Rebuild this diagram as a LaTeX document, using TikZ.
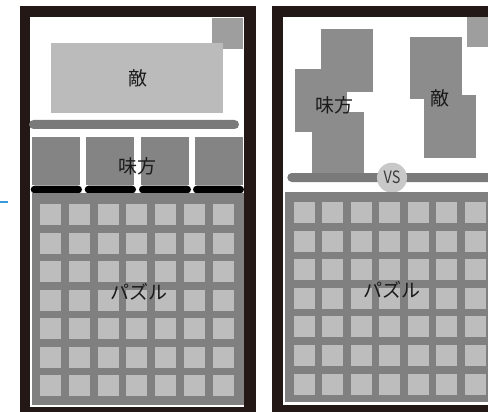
\documentclass[tikz,border=0pt]{standalone}
\usepackage{fontspec}
\setmainfont{Noto Sans CJK JP}
\definecolor{frame}{HTML}{231815}
\definecolor{enemyc}{HTML}{BBBBBB}
\definecolor{cornerc}{HTML}{9E9E9E}
\definecolor{barc}{HTML}{7A7A7A}
\definecolor{allyc}{HTML}{848484}
\definecolor{puzzc}{HTML}{808080}
\definecolor{tilec}{HTML}{BDBDBD}
\definecolor{shapec}{HTML}{8C8C8C}
\definecolor{vsc}{HTML}{C8C8C8}
\definecolor{txtc}{HTML}{1A1A1A}
\definecolor{bluec}{HTML}{3A9AD9}
\tikzset{
  lbl/.style={font=\fontsize{19}{19}\selectfont, text=txtc, inner sep=0pt},
  tile/.style={fill=tilec, draw=none},
}
\begin{document}
\begin{tikzpicture}[x=1pt,y=-1pt]
\useasboundingbox (0,0) rectangle (488,412);
\clip (0,0) rectangle (488,412);
\fill[white] (0,0) rectangle (488,412);
% blue mark
\fill[bluec] (0,200.7) rectangle (8,202.7);
% ===== left phone =====
\fill[frame] (20,5.7) rectangle (256,420);
\fill[white] (30,16.7) rectangle (244,406.7);
\fill[cornerc] (212,17.7) rectangle (243,48.7);
\fill[enemyc] (51,42.7) rectangle (223,112.7);
\node[lbl] (enemyL) at (138,78) {敵};
\fill[barc, rounded corners=4.5pt] (29,120) rectangle (239,129);
\foreach \a/\b in {32/80, 86/134, 141/189, 195/243}
  \fill[allyc] (\a,136.7) rectangle (\b,185);
\foreach \a/\b in {30.7/82, 84.7/136, 139/191, 193/244}
  \fill[black, rounded corners=3.8pt] (\a,185.7) rectangle (\b,193.3);
\node[lbl] (allyL) at (137.5,166) {味方};
\fill[puzzc] (32,193.3) rectangle (244,405);
\foreach \i in {0,...,6}
  \foreach \j in {0,...,6}
    \fill[tile] ({40+28.8*\i},{204+28.5*\j}) rectangle ++(21,21);
\node[lbl] (puzzL) at (139,291.5) {パズル};
% ===== right phone =====
\fill[frame] (272.3,5.7) rectangle (500,420);
\fill[white] (282.7,16.7) rectangle (500,404.7);
\fill[cornerc] (467.3,16.7) rectangle (500,46.7);
\fill[shapec] (321,29) rectangle (372.7,91.7);
\fill[shapec] (295,69) rectangle (347.3,131.7);
\fill[shapec] (312,111.7) rectangle (363.7,173.3);
\node[lbl] (allyR) at (334.7,105) {味方};
\fill[shapec] (410,36.7) rectangle (462,99.3);
\fill[shapec] (424,95) rectangle (476,157.7);
\node[lbl] (enemyR) at (440.3,98.7) {敵};
\fill[barc, rounded corners=4.5pt] (287.3,173) rectangle (520,182);
\node[circle, fill=vsc, minimum size=30pt, inner sep=0pt, text=txtc!85,
  font=\fontsize{17}{17}\selectfont] (vs) at (392,177.7) {\scalebox{0.85}[1]{VS}};
\fill[puzzc] (285,192.3) rectangle (500,402);
\foreach \i in {0,...,6}
  \foreach \j in {0,...,6}
    \fill[tile] ({294+28.45*\i},{202+28.6*\j}) rectangle ++(21,21);
\node[lbl] (puzzR) at (392,290.3) {パズル};
\end{tikzpicture}
\end{document}
